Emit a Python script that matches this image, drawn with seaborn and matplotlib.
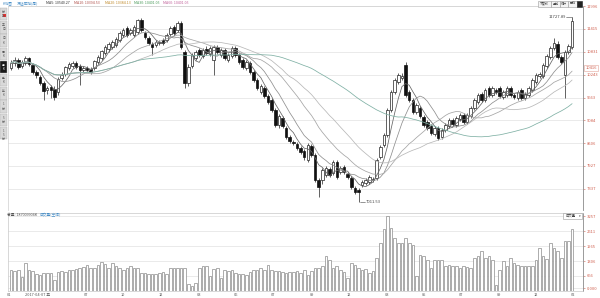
import numpy as np
import pandas as pd
import matplotlib
matplotlib.use("Agg")
import matplotlib.pyplot as plt
from matplotlib.patches import Rectangle
import matplotlib.transforms as mtransforms
import seaborn as sns

# ---------------- data (weekly candles) ----------------
opens = [10418,10545,10621,10469,10545,10672,10494,10316,10189,10036,
         9858,9934,9883,9807,10163,10265,10418,10469,10545,10469,
         10367,10418,10392,10418,10570,10672,10800,10901,10952,11003,
         11131,11258,11436,11309,11258,11334,11640,11309,11181,11029,
         11003,11054,11131,11131,11283,11462,11385,11563,10825,10036,
         10469,10672,10876,10723,10901,10774,10621,10952,10749,10876,
         10621,10723,10927,10749,10621,10418,10545,10316,10112,9807,
         9909,9705,9603,9348,8966,9145,8890,8661,8534,8483,
         8381,8304,8075,8432,8203,7566,7566,7694,7846,7744,
         8024,7770,7897,7719,7617,7363,7312,7439,7490,7515,
         7566,7617,8152,8457,8712,9348,9807,10061,10163,10494,
         9807,9603,9297,9399,9170,9043,8941,8737,8890,8661,
         8839,8941,9094,8966,9119,9221,9043,9196,9399,9552,
         9756,9603,9909,9730,9858,9909,9679,9730,9909,9730,
         9654,9858,9654,9730,9858,10061,10214,10214,10469,10698,
         10927,11029,10698,10240,10825,10952]
closes = [10545,10621,10443,10570,10672,10520,10316,10240,10036,9832,
          9909,9858,9679,10138,10240,10443,10520,10545,10443,10367,
          10418,10367,10316,10596,10698,10850,10952,11029,11080,11156,
          11309,11385,11258,11385,11462,11640,11385,11207,11054,10952,
          11080,11080,11054,11258,11436,11309,11563,10952,10036,10443,
          10749,10825,10749,10876,10800,10927,10952,10825,10876,10672,
          10749,10927,10749,10570,10443,10570,10316,10112,9909,9959,
          9705,9552,9348,8966,9196,8941,8661,8559,8508,8381,
          8279,8152,8457,8203,7566,7388,7821,7872,7694,8024,
          7643,7872,7770,7643,7388,7261,7261,7515,7566,7643,
          7592,8075,8406,8712,9348,9807,10112,10240,10214,9730,
          9603,9297,9476,9196,8966,8890,8763,8890,8635,8839,
          8966,9094,8992,9145,9221,9043,9221,9399,9603,9730,
          9603,9858,9730,9909,9807,9705,9807,9909,9730,9679,
          9807,9654,9756,9909,10112,10240,10265,10494,10723,10927,
          11054,10698,10570,10825,10978,11625]
highs = [10621,10698,10672,10621,10723,10698,10545,10367,10240,10087,
         9959,9985,9959,10189,10316,10469,10570,10596,10596,10520,
         10469,10469,10443,10621,10749,10876,11003,11080,11131,11207,
         11360,11436,11487,11436,11512,11665,11691,11360,11232,11080,
         11131,11131,11181,11309,11487,11512,11614,11614,10876,10520,
         10800,10876,10927,10927,10978,10978,11003,11003,10927,10927,
         10800,10978,10978,10800,10672,10621,10596,10367,10163,10010,
         9959,9756,9654,9399,9247,9196,8941,8712,8585,8534,
         8432,8355,8508,8483,8254,7617,7872,7923,7897,8075,
         8075,7923,7948,7770,7668,7413,7363,7566,7617,7694,
         7643,8126,8457,8763,9399,9858,10163,10290,10290,10570,
         9858,9654,9527,9450,9221,9094,8992,8941,8941,8890,
         9017,9145,9145,9196,9272,9272,9272,9450,9654,9781,
         9807,9909,9959,9959,9909,9959,9858,9959,9959,9781,
         9858,9909,9807,9959,10163,10290,10316,10545,10774,10978,
         11181,11105,10749,10876,11029,11727.89]
lows = [10367,10469,10392,10418,10494,10469,10265,10163,9985,9603,
        9756,9654,9603,9730,10112,10214,10367,10418,10392,9985,
        10316,10316,10265,10367,10520,10621,10749,10825,10901,10952,
        11080,11207,11207,11258,11207,11283,11334,11156,11003,10749,
        10952,11003,11003,11080,11232,11258,11334,10901,9909,9959,
        10418,10621,10698,10672,10749,10723,10240,10774,10698,10621,
        10570,10672,10698,10520,10392,10367,10265,10061,9858,9756,
        9654,9501,9297,8916,8890,8890,8610,8508,8457,8330,
        8228,8075,8024,8152,7515,7133,7464,7643,7643,7694,
        7592,7719,7719,7592,7337,7210,7011.53,7388,7439,7464,
        7515,7566,8101,8406,8661,9297,9756,10010,10112,9679,
        9552,9247,9247,9145,8916,8839,8712,8686,8585,8610,
        8788,8890,8941,8916,9068,8992,8992,9145,9348,9501,
        9552,9552,9679,9679,9756,9654,9628,9679,9679,9628,
        9603,9603,9603,9679,9807,10010,10163,10163,10418,10647,
        10876,10647,10520,9654,10774,10901]
volumes = [920,870,920,610,1220,920,860,740,700,790,
           790,790,480,830,860,830,920,920,960,1000,
           1050,1140,1000,1000,1140,1270,1180,1000,1220,1090,
           1000,920,1000,1090,1000,1000,790,790,740,740,
           740,790,830,740,1000,1000,1000,1000,1000,310,
           220,350,1000,1090,1090,655,960,1000,570,920,
           860,920,790,740,740,700,830,920,920,1000,
           920,1140,920,860,860,830,790,830,830,860,
           790,920,700,860,1000,1000,1090,1530,1350,1000,
           1090,920,830,570,1220,1140,1000,920,960,790,
           860,1440,2100,2710,3275,2750,2310,2100,2100,2310,
           2100,2010,655,1570,1530,1350,1000,1350,1350,1350,
           1090,1140,1090,1090,1000,1090,1050,1000,1440,1530,
           1750,1440,1530,1350,260,920,1310,1090,1440,1220,
           1140,1090,1090,1090,1090,1350,1880,1530,1400,2100,
           1880,1750,1440,2180,2180,2710]

price_ticks = [11996, 11415, 10831, 10243, 9663, 9084, 8506, 7927, 7337]
price_marker = 10416
vol_ticks = [131, 666, 1306, 1965, 2611, 3257]
vol_tick_labels = ["0.000", "666", "1306", "1965", "2611", "3257"]
x_tick_idx = [-0.5, 7.2, 20.7, 30.9, 41.4, 51.9, 62.2, 72.4, 83.1, 93.4,
              103.9, 114.1, 124.3, 134.8, 145.0, 155.2]
x_tick_labels = ["01", "2017-04-07 五", "07", "10", "12", "03", "06", "07", "09", "12",
                 "03", "05", "07", "09", "12", "02"]
ma_periods = [5, 10, 20, 30, 60]
header_ma = ["MA5: 10540.27", "MA10: 10394.53", "MA20: 10384.13",
             "MA30: 10401.05", "MA60: 10401.05"]

# ---------------- style ----------------
sns.set_style("white")
plt.rcParams["font.family"] = ["Noto Sans CJK SC", "DejaVu Sans"]
plt.rcParams["axes.unicode_minus"] = False

W, H = 600, 298
fig = plt.figure(figsize=(6, 2.98), dpi=100)
fig.patch.set_facecolor("white")


def fx(px):
    return px / W


def fy(py):
    return 1 - py / H


def frect(x0, y0, x1, y1, **kw):
    fig.patches.append(Rectangle((fx(x0), fy(y1)), fx(x1) - fx(x0), (y1 - y0) / H,
                                 transform=fig.transFigure, **kw))


def ftext(px, py, s, **kw):
    fig.text(fx(px), fy(py), s, **kw)


L, R = 8, 583
VB = 291  # volume panel baseline (px)
ax = fig.add_axes([fx(L), fy(210), fx(R) - fx(L), (210 - 6) / H])
axv = fig.add_axes([fx(L), fy(VB), fx(R) - fx(L), (VB - 213) / H])

df = pd.DataFrame({"i": np.arange(len(closes)), "open": opens, "close": closes,
                   "high": highs, "low": lows, "vol": volumes})
up = df["close"] >= df["open"]
bottom = np.minimum(df["open"], df["close"])
height = np.maximum(np.abs(df["close"] - df["open"]), 12)

# wicks and bodies
ax.vlines(df["i"], df["low"], df["high"], color="#222222", lw=0.5, zorder=2)
ax.bar(df["i"][up], height[up], bottom=bottom[up], width=0.7,
       facecolor="white", edgecolor="#222222", linewidth=0.5, zorder=3)
ax.bar(df["i"][~up], height[~up], bottom=bottom[~up], width=0.7,
       facecolor="#111111", edgecolor="#111111", linewidth=0.5, zorder=3)

# moving averages
ma_colors = ["#666666", "#8f8f8f", "#a5a5a5", "#b8b8b8", "#7fb0a4"]
for p, c in zip(ma_periods, ma_colors):
    m = df["close"].rolling(p, min_periods=1).mean()
    sns.lineplot(x=df["i"], y=m, ax=ax, color=c, lw=0.55, zorder=4)

xlo, xhi = (L - 11) / 3.62, (R - 11) / 3.62
ax.set_xlim(xlo, xhi)
ax.set_ylim(6802, 11996)
ax.set_yticks(price_ticks)
ax.set_yticklabels([str(t) for t in price_ticks])
ax.yaxis.tick_right()
ax.tick_params(axis="y", labelsize=3, colors="#d0604f", length=1.5, pad=1, width=0.4)
ax.tick_params(axis="x", bottom=False, labelbottom=False)
ax.set_xlabel("")
ax.set_ylabel("")
ax.grid(axis="y", color="#e2e2e2", lw=0.5)
ax.grid(axis="x", visible=False)
for s in ["left", "top"]:
    ax.spines[s].set_color("#cfcfcf")
    ax.spines[s].set_linewidth(0.5)
ax.spines["bottom"].set_visible(False)
ax.spines["right"].set_color("#8a8a8a")
ax.spines["right"].set_linewidth(0.6)

# highlighted price marker on axis
btr = mtransforms.blended_transform_factory(ax.transAxes, ax.transData)
ax.text(1.004, price_marker, str(price_marker), transform=btr, fontsize=3,
        color="#d0604f", va="center", ha="left",
        bbox=dict(boxstyle="square,pad=0.25", fc="white", ec="#e3a398", lw=0.4))

# max / min labels
ax.plot([153.3, 154.9], [11727.89, 11727.89], color="#444444", lw=0.4)
ax.text(153.2, 11727.89, "11727.89", fontsize=3, color="#444444", ha="right", va="center")
ax.plot([96.3, 97.8], [7011.53, 7011.53], color="#444444", lw=0.4)
ax.text(98.0, 7011.53, "7011.53", fontsize=3, color="#444444", ha="left", va="center")

# volume panel
sns.barplot(x=df["i"], y=df["vol"], ax=axv, native_scale=True, color="white",
            edgecolor="#8c8c8c", linewidth=0.5, width=0.72, errorbar=None,
            saturation=1)
axv.set_xlim(xlo, xhi)
axv.set_ylim(0, (VB - 213) / 0.0229)
axv.set_yticks(vol_ticks)
axv.set_yticklabels(vol_tick_labels)
axv.yaxis.tick_right()
axv.tick_params(axis="y", labelsize=3, colors="#d0604f", length=1.5, pad=1, width=0.4)
axv.set_xticks(x_tick_idx)
axv.set_xticklabels(x_tick_labels)
axv.tick_params(axis="x", labelsize=2.8, colors="#555555", length=0.8, pad=0.3, width=0.4)
axv.set_xlabel("")
axv.set_ylabel("")
axv.grid(axis="y", color="#e2e2e2", lw=0.5)
axv.grid(axis="x", visible=False)
axv.set_axisbelow(True)
for s in ["left", "top", "bottom"]:
    axv.spines[s].set_color("#c8c8c8")
    axv.spines[s].set_linewidth(0.5)
axv.spines["right"].set_color("#8a8a8a")
axv.spines["right"].set_linewidth(0.6)

# ---------------- header texts and chrome ----------------
ftext(3, 3.2, "K线图", fontsize=2.7, color="#4a90c8", va="center")
ftext(17, 3.2, "深证成指(周)", fontsize=2.7, color="#4a90c8", va="center")
hx = [46, 74, 105, 134, 163]
hc = ["#333333", "#b0504a", "#c08a2a", "#4a9a5a", "#c0609a"]
for x, s, c in zip(hx, header_ma, hc):
    ftext(x, 3.2, s, fontsize=2.6, color=c, va="center")

# top right buttons
btns = [(538, 551, "不复权"), (551, 560, "叠加"), (560, 568, "统计"), (568, 577, "画线")]
for x0, x1, s in btns:
    frect(x0, 0.5, x1, 6.5, fc="#f4f4f4", ec="#9a9a9a", lw=0.4)
    ftext((x0 + x1) / 2, 3.5, s, fontsize=2.2, color="#444444", ha="center", va="center")
frect(577, 0.5, 582, 6.5, fc="#222222", ec="#222222", lw=0.4)

# volume header
ftext(7, 215.5, "总量: 187009904K", fontsize=2.7, color="#555555", va="center")
ftext(40, 215.5, "成交量(空间)", fontsize=2.7, color="#4a90c8", va="center")
frect(563, 212.5, 582, 219, fc="white", ec="#9a9a9a", lw=0.4)
ftext(571, 215.8, "成交量", fontsize=2.4, color="#444444", ha="center", va="center")
ftext(579.5, 215.8, "▾", fontsize=2.4, color="#444444", ha="center", va="center")

# left toolbar (starts below the header line)
tools = ["分时", "五日", "日K", "周K", "月K", "季K", "年K", "1分", "5分", "15分"]
for k, s in enumerate(tools):
    y0 = 8 + k * 13.2
    sel = (k == 4)
    frect(0, y0, 7, y0 + 12.4, fc="#1a1a1a" if sel else "#d9d9d9",
          ec="#b0b0b0", lw=0.3)
    for j, ch in enumerate(s):
        ftext(3.5, y0 + 4 + j * 4.3, ch, fontsize=2.1,
              color="white" if sel else "#555555", ha="center", va="center")
frect(2.5, 14.5, 5.5, 17, fc="#e03030", ec="none")

fig.savefig("out.png", dpi=100, facecolor="white")
